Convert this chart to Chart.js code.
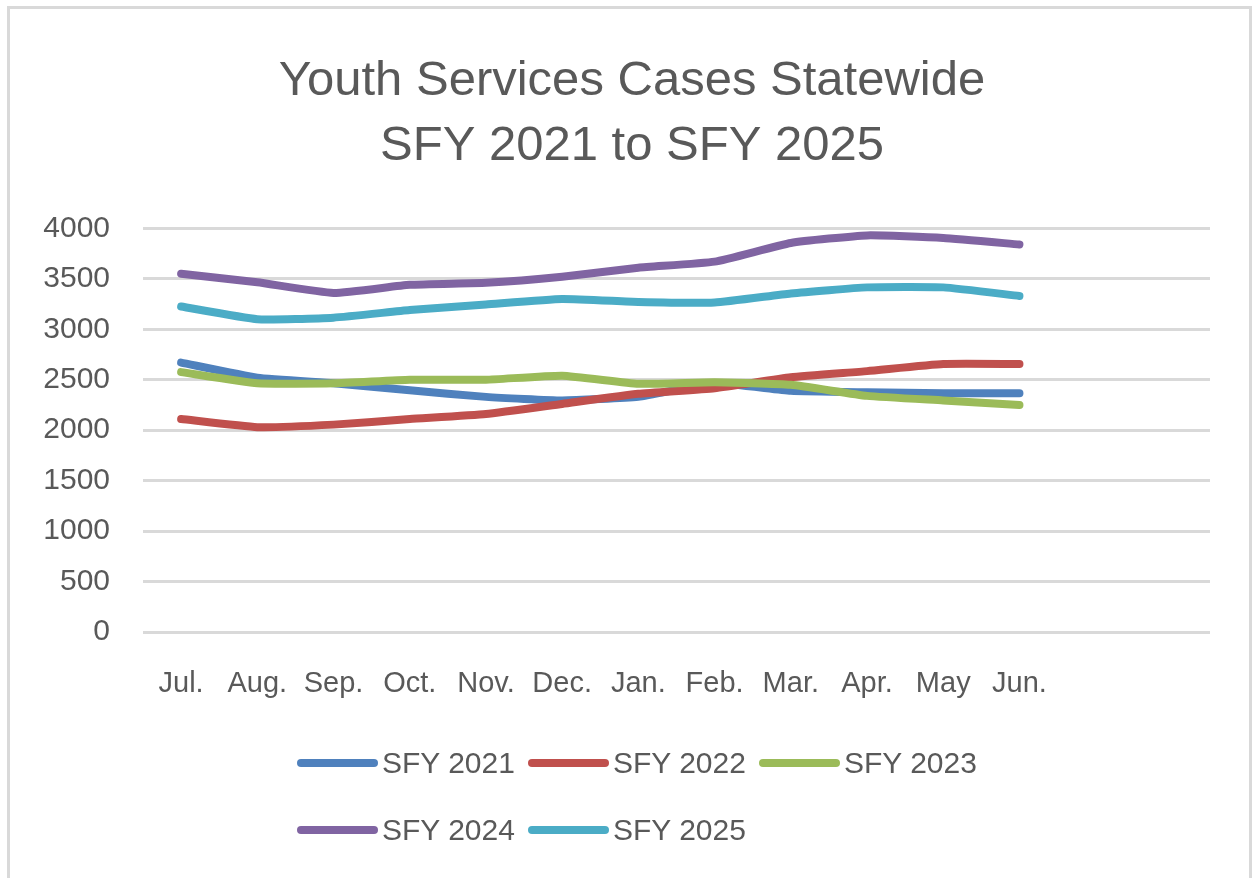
<!DOCTYPE html>
<html lang="en">
<head>
	<meta charset="UTF-8">
	<title>Youth Services Cases Statewide</title>
	<script src="https://cdn.jsdelivr.net/npm/chart.js@4.4.1/dist/chart.umd.min.js"></script>
	<style>
		body { margin: 0; background: #fff; font-family: "Liberation Sans", Arial, sans-serif; }
		#frame { position: absolute; left: 7px; top: 6px; width: 1245px; height: 900px; border: 3px solid #d9d9d9; box-sizing: border-box; }
		#wrap { position: absolute; left: 0; top: 0; width: 1252px; height: 878px; }
		#legenda { position: absolute; left: 297px; top: 729px; width: 720px; }
		.item { display: inline-flex; align-items: center; width: 231px; height: 67px; vertical-align: top; }
		.item span.linha { display: inline-block; width: 81px; height: 8px; border-radius: 4px; margin-right: 4px; }
		.item span.txt { font-size: 30px; color: #595959; white-space: nowrap; }
	</style>
</head>
<body>
	<div id="frame"></div>
	<div id="wrap"><canvas id="casos" width="1252" height="878"></canvas></div>
	<div id="legenda"></div>

	<script>
		// meses do ano fiscal (duas categorias vazias no fim, como no original)
		const meses = ['Jul.', 'Aug.', 'Sep.', 'Oct.', 'Nov.', 'Dec.', 'Jan.', 'Feb.', 'Mar.', 'Apr.', 'May', 'Jun.', '', ''];

		const sfy2021 = [2670, 2520, 2465, 2395, 2330, 2295, 2330, 2465, 2390, 2375, 2365, 2365];
		const sfy2022 = [2110, 2030, 2055, 2110, 2160, 2260, 2360, 2415, 2525, 2585, 2655, 2655];
		const sfy2023 = [2575, 2465, 2465, 2500, 2500, 2540, 2460, 2475, 2450, 2340, 2295, 2250];
		const sfy2024 = [3550, 3465, 3360, 3440, 3460, 3520, 3610, 3670, 3855, 3930, 3905, 3840];
		const sfy2025 = [3225, 3100, 3115, 3190, 3245, 3300, 3270, 3265, 3355, 3415, 3415, 3330];

		const nomes = ['SFY 2021', 'SFY 2022', 'SFY 2023', 'SFY 2024', 'SFY 2025'];
		const cores = ['#4f81bd', '#c0504d', '#9bbb59', '#8064a2', '#4bacc6'];
		const series = [sfy2021, sfy2022, sfy2023, sfy2024, sfy2025];

		const fonte = '"Liberation Sans", Arial, sans-serif';
		const cinza = '#595959';

		const datasets = series.map((s, i) => ({
			label: nomes[i],
			data: s,
			borderColor: cores[i],
			backgroundColor: cores[i],
			borderWidth: 8,
			borderCapStyle: 'round',
			borderJoinStyle: 'round',
			pointRadius: 0,
			tension: 0.15,
			fill: false,
			order: -i
		}));

		const ctx = document.querySelector('#casos').getContext('2d');

		const chart = new Chart(ctx, {
			type: 'line',
			data: { labels: meses, datasets: datasets },
			options: {
				responsive: false,
				animation: false,
				layout: { padding: { top: 20, left: 12, right: 0, bottom: 0 } },
				plugins: {
					legend: { display: false },
					tooltip: { enabled: false },
					title: {
						display: true,
						text: ['Youth Services Cases Statewide', 'SFY 2021 to SFY 2025'],
						color: cinza,
						font: { family: fonte, size: 49, weight: 'normal', lineHeight: 1.33 },
						padding: { top: 29, bottom: 49 }
					}
				},
				scales: {
					x: {
						offset: true,
						grid: { display: false },
						border: { display: false },
						ticks: {
							color: cinza,
							font: { family: fonte, size: 29 },
							padding: 27,
							maxRotation: 0,
							autoSkip: false
						},
						afterFit: (scale) => { scale.height = 246; }
					},
					y: {
						min: 0,
						max: 4000,
						border: { display: false },
						grid: { color: '#d9d9d9', lineWidth: 3, drawTicks: false },
						ticks: {
							stepSize: 500,
							color: cinza,
							font: { family: fonte, size: 30 },
							padding: 33,
							callback: (v) => String(v)
						},
						afterFit: (scale) => { scale.width = 131; }
					},
					// eixo vazio à direita só para reservar a margem
					margem: {
						type: 'linear',
						position: 'right',
						grid: { display: false },
						border: { display: false },
						ticks: { display: false },
						afterFit: (scale) => { scale.width = 42; }
					}
				}
			}
		});

		// legenda montada a partir dos datasets
		const legenda = document.querySelector('#legenda');
		chart.data.datasets.forEach(ds => {
			const item = document.createElement('div');
			item.className = 'item';
			item.innerHTML = `<span class="linha" style="background:${ds.borderColor}"></span><span class="txt">${ds.label}</span>`;
			legenda.appendChild(item);
		});
	</script>
</body>
</html>
